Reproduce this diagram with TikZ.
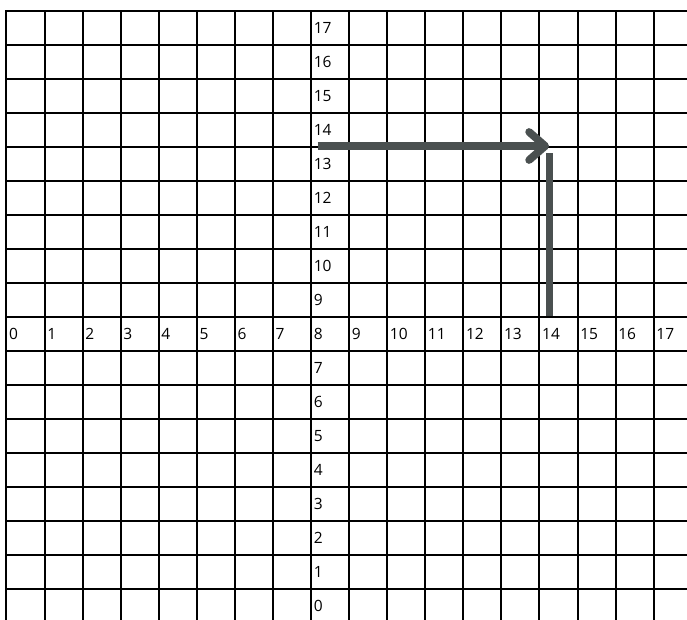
\documentclass[tikz,border=0pt]{standalone}
\usepackage{fontspec}
\setmainfont{Open Sans}
\usepackage{xcolor}
\usepackage{tikz}
\usetikzlibrary{arrows.meta}
\definecolor{arrowgray}{RGB}{74,80,80}

\begin{document}
\begin{tikzpicture}[x=38.07pt, y=34pt,
  gridline/.style={line width=2pt, black},
  lbl/.style={anchor=west, inner sep=2.5pt, font=\fontsize{15.5}{18}\selectfont},
  arr/.style={line width=7.7pt, draw=arrowgray}]
  \useasboundingbox (-0.1707,0.0794) rectangle (17.875,18.3147);
  \clip (-0.1707,0.0794) rectangle (17.875,18.3147);
  % grid
  \foreach \r in {1,...,18}
    \draw[gridline] (-0.026,\r) -- (18,\r);
  \foreach \c in {0,...,17}
    \draw[gridline] (\c,0) -- (\c,18.03);
  % axis labels
  \foreach \c in {0,...,17}
    \node[lbl] (col\c) at (\c,8.5) {\c};
  \foreach \r in {0,...,7,9,10,...,17}
    \node[lbl] (row\r) at (8,\r+0.5) {\r};
  % path
  \coordinate (hstart) at (8.175,14.02);
  \coordinate (htip) at (14.25,14.02);
  \coordinate (vbot) at (14.26,9.02);
  \coordinate (vtop) at (14.26,13.81);
  \draw[arr, -{Straight Barb[length=16pt, width=28pt, round]}] (hstart) -- (htip);
  \draw[arr] (vbot) -- (vtop);
\end{tikzpicture}
\end{document}
